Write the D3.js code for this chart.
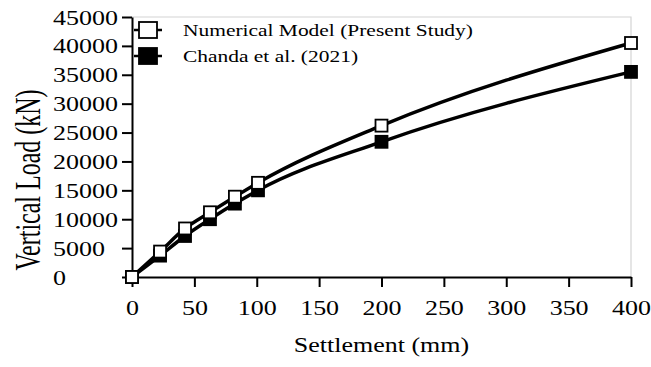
<!DOCTYPE html>
<html>
<head>
<meta charset="utf-8">
<script src="https://cdn.jsdelivr.net/npm/d3@7"></script>
<style>
  html, body { margin: 0; padding: 0; background: #fff; }
  svg { display: block; }
  text { font-family: "Liberation Serif", "Times New Roman", serif; fill: #000; }
</style>
</head>
<body>
<svg id="chart" width="651" height="367"></svg>
<script>
// Load–settlement data (settlement in mm, vertical load in kN)
const settlement = [0, 22.5, 42.5, 62.5, 82.5, 101, 200, 400];
const numericalLoad = [0, 4400, 8400, 11200, 13900, 16300, 26200, 40500];
const chandaLoad = [0, 3700, 7100, 10000, 12700, 15000, 23400, 35500];
const xTicks = [0, 50, 100, 150, 200, 250, 300, 350, 400];
const yTicks = [0, 5000, 10000, 15000, 20000, 25000, 30000, 35000, 40000, 45000];
const seriesNames = ["Numerical Model (Present Study)", "Chanda et al. (2021)"];

const plot = { left: 132, right: 631, top: 17, bottom: 277 };
const sx = 1.3; // horizontal glyph stretch

const svg = d3.select("#chart");

const x = d3.scaleLinear().domain([0, 400]).range([plot.left, plot.right]);
const y = d3.scaleLinear().domain([0, 45000]).range([plot.bottom, plot.top]);

// light frame on top and right
svg.append("path")
  .attr("d", `M${plot.left},${plot.top}H${plot.right}V${plot.bottom}`)
  .attr("fill", "none").attr("stroke", "#d4d4d4").attr("stroke-width", 1.2);

// x axis
const xAxis = svg.append("g")
  .attr("transform", `translate(0,${plot.bottom})`)
  .call(d3.axisBottom(x).tickValues(xTicks).tickSize(10).tickSizeOuter(0).tickFormat(d3.format("d")));
xAxis.attr("font-family", null);
xAxis.select(".domain").attr("stroke", "#000").attr("stroke-width", 2);
xAxis.selectAll(".tick line").attr("stroke", "#000").attr("stroke-width", 2);
xAxis.selectAll(".tick text")
  .attr("y", 0).attr("dy", null)
  .attr("transform", `translate(0,38) scale(${sx},1)`)
  .style("font-size", "20px");

// y axis
const yAxis = svg.append("g")
  .attr("transform", `translate(${plot.left},0)`)
  .call(d3.axisLeft(y).tickValues(yTicks).tickSize(10).tickSizeOuter(0).tickFormat(d3.format("d")));
yAxis.attr("font-family", null);
yAxis.select(".domain").attr("stroke", "#000").attr("stroke-width", 2);
yAxis.selectAll(".tick line").attr("stroke", "#000").attr("stroke-width", 2);
yAxis.selectAll(".tick text")
  .attr("x", 0).attr("dy", null)
  .attr("text-anchor", "start")
  .attr("transform", `translate(${53 - plot.left},7) scale(${sx},1)`)
  .style("font-size", "20px");

// axis titles
svg.append("text")
  .attr("text-anchor", "middle")
  .attr("transform", `translate(${(plot.left + plot.right) / 2},352) scale(${sx},1)`)
  .style("font-size", "20px")
  .text("Settlement (mm)");

svg.append("text")
  .attr("text-anchor", "middle")
  .attr("transform", `translate(40,180) scale(1.45,1) rotate(-90)`)
  .style("font-size", "24px")
  .text("Vertical Load (kN)");

// curves
const pts = vals => settlement.map((s, i) => [s, vals[i]]);
const line = d3.line().x(d => x(d[0])).y(d => y(d[1])).curve(d3.curveMonotoneX);

const series = [
  { name: seriesNames[0], data: pts(numericalLoad), fill: "#fff" },
  { name: seriesNames[1], data: pts(chandaLoad), fill: "#000" }
];

series.forEach(s => {
  svg.append("path")
    .attr("d", line(s.data))
    .attr("fill", "none").attr("stroke", "#000").attr("stroke-width", 3.5);
});

const mk = 12;
series.slice().reverse().forEach(s => {
  svg.append("g").selectAll("rect")
    .data(s.data).join("rect")
    .attr("x", d => x(d[0]) - mk / 2)
    .attr("y", d => y(d[1]) - mk / 2)
    .attr("width", mk).attr("height", mk)
    .attr("fill", s.fill).attr("stroke", "#000").attr("stroke-width", 1.8);
});

// legend
const legend = svg.append("g");
const legY = [30, 56];
series.forEach((s, i) => {
  const g = legend.append("g");
  g.append("line")
    .attr("x1", 134).attr("x2", 162)
    .attr("y1", legY[i]).attr("y2", legY[i])
    .attr("stroke", "#000").attr("stroke-width", 2.5);
  g.append("rect")
    .attr("x", 148 - 9).attr("y", legY[i] - 8)
    .attr("width", 18).attr("height", 16)
    .attr("fill", s.fill).attr("stroke", "#000").attr("stroke-width", 1.8);
  g.append("text")
    .attr("transform", `translate(183,${legY[i] + 6}) scale(${sx},1)`)
    .style("font-size", "16.5px")
    .text(s.name);
});
</script>
</body>
</html>
